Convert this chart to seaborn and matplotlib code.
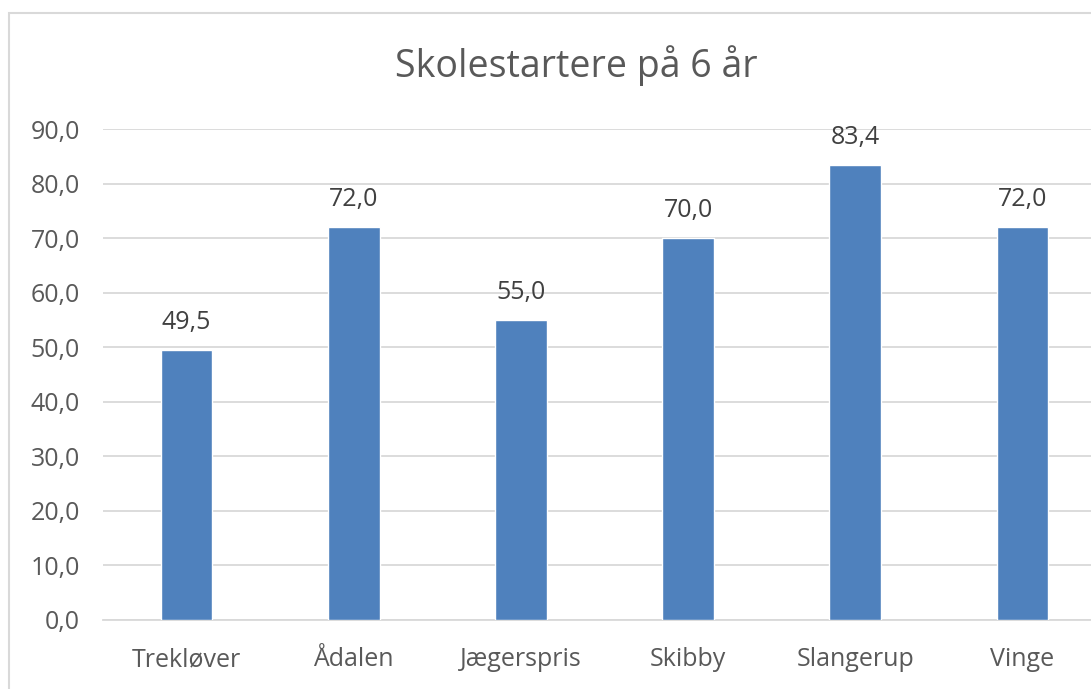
import matplotlib
matplotlib.use("Agg")
import matplotlib.pyplot as plt
import seaborn as sns
import pandas as pd
from matplotlib.patches import Rectangle

categories = ["Trekløver", "Ådalen", "Jægerspris", "Skibby", "Slangerup", "Vinge"]
values = [49.5, 72.0, 55.0, 70.0, 83.4, 72.0]
yticks = [0, 10, 20, 30, 40, 50, 60, 70, 80, 90]
title = "Skolestartere på 6 år"

sns.set_theme(style="white")
plt.rcParams['font.family'] = ['Open Sans', 'DejaVu Sans']

df = pd.DataFrame({"skole": categories, "andel": values})

fig = plt.figure(figsize=(10.91, 6.89), dpi=100)
fig.patch.set_facecolor("white")
ax = fig.add_axes([103/1091, 1-620/689, (1106-103)/1091, (620-129)/689])

sns.barplot(data=df, x="skole", y="andel", color="#4F81BD", saturation=1,
            width=0.31, ax=ax, zorder=3)

ax.set_ylim(0, 90)
ax.set_yticks(yticks)
ax.set_yticklabels([f"{t:.1f}".replace(".", ",") for t in yticks])
ax.set_xlim(-0.5, len(categories) - 0.5)
ax.grid(axis="y", color="#d9d9d9", linewidth=1.3, zorder=0)
ax.grid(axis="x", visible=False)
for s in ["top", "right", "left"]:
    ax.spines[s].set_visible(False)
ax.spines["bottom"].set_color("#d9d9d9")
ax.spines["bottom"].set_linewidth(1.3)
ax.set_xlabel("")
ax.set_ylabel("")
ax.tick_params(axis="both", length=0, labelcolor="#595959", labelsize=18)
ax.tick_params(axis="y", pad=16.5)
ax.tick_params(axis="x", pad=19.5)

for i, v in enumerate(values):
    ax.annotate(f"{v:.1f}".replace(".", ","), (i, v), xytext=(0, 11),
                textcoords="offset points", ha="center", va="bottom",
                fontsize=18, color="#404040")

fig.text(576/1091, 1-66/689, title, ha="center", va="center",
         fontsize=27, color="#595959")

fig.patches.append(Rectangle((9/1091, -0.1), 1.2, 1.1 - 13/689,
                             transform=fig.transFigure, fill=False,
                             edgecolor="#d9d9d9", linewidth=1.5))

fig.savefig("out.png", dpi=100)
